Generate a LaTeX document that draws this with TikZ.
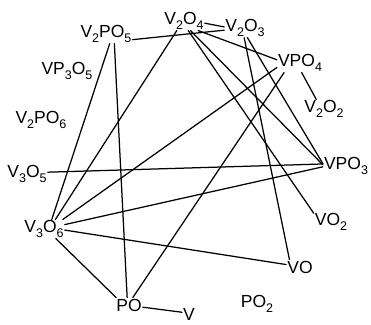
\documentclass[tikz,border=0pt]{standalone}
\usepackage{fontspec}
\setmainfont{Liberation Sans}
\newcommand{\sbs}[1]{\raisebox{-4.5pt}{\fontsize{12.5}{12.5}\selectfont #1}}
\begin{document}
\begin{tikzpicture}[x=1pt,y=-1pt,
  lbl/.style={inner sep=1pt, font=\fontsize{17.5}{17.5}\selectfont},
  conn/.style={line width=1.25pt, line cap=round}]
\useasboundingbox (0,0) rectangle (371,324);
\node[lbl] (V2PO5) at (106,34) {V\sbs{2}PO\sbs{5}};
\node[lbl] (V2O4) at (184,21) {V\sbs{2}O\sbs{4}};
\node[lbl] (V2O3) at (245,28) {V\sbs{2}O\sbs{3}};
\node[lbl] (VPO4) at (300,63) {VPO\sbs{4}};
\node[lbl] (V2O2) at (324,109) {V\sbs{2}O\sbs{2}};
\node[lbl] (VP3O5) at (67,71) {VP\sbs{3}O\sbs{5}};
\node[lbl] (V2PO6) at (41,120) {V\sbs{2}PO\sbs{6}};
\node[lbl] (V3O5) at (27,174) {V\sbs{3}O\sbs{5}};
\node[lbl] (VPO3) at (346,166) {VPO\sbs{3}};
\node[lbl] (V3O6) at (44,229) {V\sbs{3}O\sbs{6}};
\node[lbl] (VO2) at (331,222) {VO\sbs{2}};
\node[lbl] (VO) at (300,267) {VO};
\node[lbl] (PO2) at (257,304) {PO\sbs{2}};
\node[lbl] (PO) at (129,305) {PO};
\node[lbl] (V) at (189,314) {V};

\draw[conn] (V2PO5.-12) -- (V2O3.186);
\draw[conn] (V2O4.-6) -- (V2O3.177);
\draw[conn] (V2O4.-34) -- (VPO4.172);
\draw[conn] (V2O4.233) -- (V3O6.40);
\draw[conn] (V2O4.-66) -- (VO2.153);
\draw[conn] (V2O4.-56) -- (VPO3.177);
\draw[conn] (V2O3.-95) -- (VO.145);
\draw[conn] (V2O3.-76) -- (VPO3.174);
\draw[conn] (V2PO5.-69) -- (V3O6.51);
\draw[conn] (V2PO5.-49) -- (PO.104);
\draw[conn] (VPO4.-80) -- (V2O2.129);
\draw[conn] (VPO4.191) -- (V3O6.27);
\draw[conn] (VPO4.211) -- (PO.63);
\draw[conn] (V3O5.5) -- (VPO3.175);
\draw[conn] (V3O6.12) -- (VPO3.182);
\draw[conn] (V3O6.-3) -- (VO.170);
\draw[conn] (V3O6.-39) -- (PO.150);
\draw[conn] (PO.-9) -- (V.166);
\end{tikzpicture}
\end{document}
